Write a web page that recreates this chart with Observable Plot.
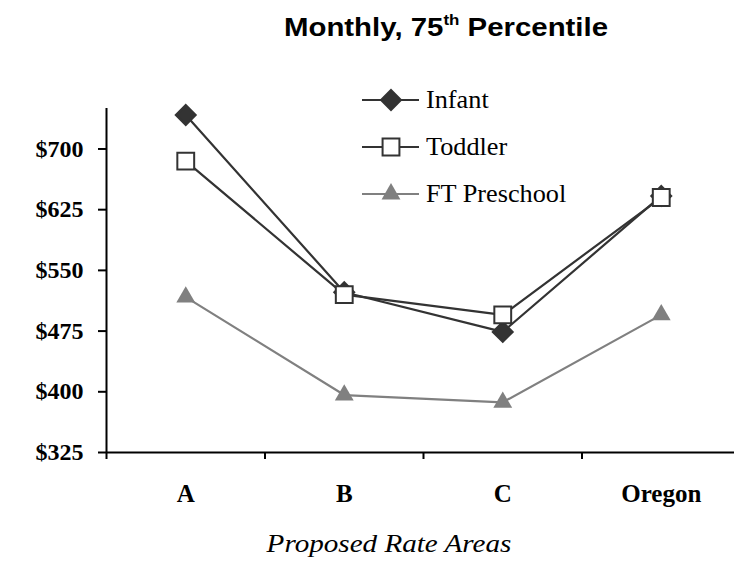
<!DOCTYPE html>
<html>
<head>
<meta charset="utf-8">
<script src="https://cdn.jsdelivr.net/npm/d3@7"></script>
<script src="https://cdn.jsdelivr.net/npm/@observablehq/plot@0.6"></script>
<style>
  html, body { margin: 0; padding: 0; background: #fff; }
  #wrap { position: relative; width: 734px; height: 573px; overflow: hidden; }
  #chart { position: absolute; left: 0; top: 0; }
  #title { position: absolute; left: 446px; top: 12px; transform: translateX(-50%) scaleX(1.13); white-space: nowrap;
           font-family: "Liberation Sans", Arial, sans-serif; font-weight: bold; font-size: 26px; color: #000; }
  #title sup { font-size: 15px; vertical-align: 0; position: relative; top: -11px; }
  #xtitle { position: absolute; left: 389px; top: 529px; transform: translateX(-50%) scaleX(1.12); white-space: nowrap;
            font-family: "Liberation Serif", "Times New Roman", serif; font-style: italic; font-size: 26px; color: #000; }
  .leg { position: absolute; left: 360px; height: 30px; display: flex; align-items: center;
         font-family: "Liberation Serif", "Times New Roman", serif; font-size: 25px; color: #000; white-space: nowrap; }
  .leg svg { margin-right: 5px; }
  .leg span { display: inline-block; transform-origin: left center; transform: scaleX(1.05); }
</style>
</head>
<body>
<div id="wrap">
  <div id="chart"></div>
  <div id="title">Monthly, 75<sup>th</sup> Percentile</div>
  <div id="xtitle">Proposed Rate Areas</div>
  <div id="legend"></div>
</div>
<script>
const categories = ["A", "B", "C", "Oregon"];
const seriesNames = ["Infant", "Toddler", "FT Preschool"];
const infant = [742, 523, 474, 642];
const toddler = [685, 520, 495, 640];
const preschool = [517, 396, 387, 495];
const yTicks = [325, 400, 475, 550, 625, 700];

const seriesValues = [infant, toddler, preschool];
const styles = {
  "Infant":       {stroke: "#333333", fill: "#333333", symbol: "diamond2", r: 9},
  "Toddler":      {stroke: "#333333", fill: "#ffffff", symbol: "square", r: 9.5},
  "FT Preschool": {stroke: "#808080", fill: "#808080", symbol: "triangle", r: 7}
};

const rows = [];
seriesNames.forEach((s, k) => {
  seriesValues[k].forEach((v, i) => rows.push({series: s, i, category: categories[i], value: v}));
});

const lineMarks = [];
seriesNames.forEach(s => {
  const st = styles[s];
  const data = rows.filter(d => d.series === s);
  lineMarks.push(Plot.line(data, {x: d => d.i + 0.5, y: "value", stroke: st.stroke, strokeWidth: 2.2}));
});
["FT Preschool", "Infant", "Toddler"].forEach(s => {
  const st = styles[s];
  const data = rows.filter(d => d.series === s);
  lineMarks.push(Plot.dot(data, {x: d => d.i + 0.5, y: "value", symbol: () => st.symbol, r: st.r,
    fill: st.fill, stroke: s === "FT Preschool" ? "none" : st.stroke, strokeWidth: 2}));
});

const chart = Plot.plot({
  width: 734,
  height: 573,
  marginLeft: 106,
  marginRight: 0,
  marginTop: 108,
  marginBottom: 121,
  x: {domain: [0, categories.length], range: [106, 740], axis: null},
  y: {domain: [325, 750], axis: null},
  symbol: {type: "identity"},
  style: {fontFamily: "'Liberation Serif', 'Times New Roman', serif", color: "#000", background: "#fff"},
  marks: [
    Plot.ruleY([325], {stroke: "#000", strokeWidth: 2}),
    Plot.ruleX([0], {stroke: "#000", strokeWidth: 2}),
    Plot.axisY({ticks: yTicks, tickFormat: d => "$" + d, tickSize: 8, tickPadding: 15, label: null,
      fontSize: 24, fontWeight: "bold", strokeWidth: 2, stroke: "#000"}),
    Plot.axisX({ticks: d3.range(categories.length + 1), tickSize: 7, tickFormat: () => "", label: null,
      strokeWidth: 2, stroke: "#000"}),
    Plot.axisX({ticks: categories.map((c, i) => i + 0.5), tickSize: 0, tickPadding: 32, label: null,
      tickFormat: v => categories[Math.round(v - 0.5)], fontSize: 25, fontWeight: "bold"}),
    ...lineMarks
  ]
});
document.getElementById("chart").appendChild(chart);

// Legend
const legend = document.getElementById("legend");
const legTops = [85, 132, 179];
seriesNames.forEach((s, k) => {
  const st = styles[s];
  const div = document.createElement("div");
  div.className = "leg";
  div.style.top = legTops[k] + "px";
  const sym = d3.symbol(st.symbol === "diamond2" ? d3.symbolDiamond2 : st.symbol === "square" ? d3.symbolSquare : d3.symbolTriangle,
    Math.PI * st.r * st.r)();
  div.innerHTML = `<svg width="61" height="30"><line x1="2" x2="59" y1="15" y2="15" stroke="${st.stroke}" stroke-width="2.2"/>` +
    `<path transform="translate(31,15)" d="${sym}" fill="${st.fill}" stroke="${s === "FT Preschool" ? "none" : st.stroke}" stroke-width="2"/></svg>` +
    `<span>${s}</span>`;
  legend.appendChild(div);
});
</script>
</body>
</html>
